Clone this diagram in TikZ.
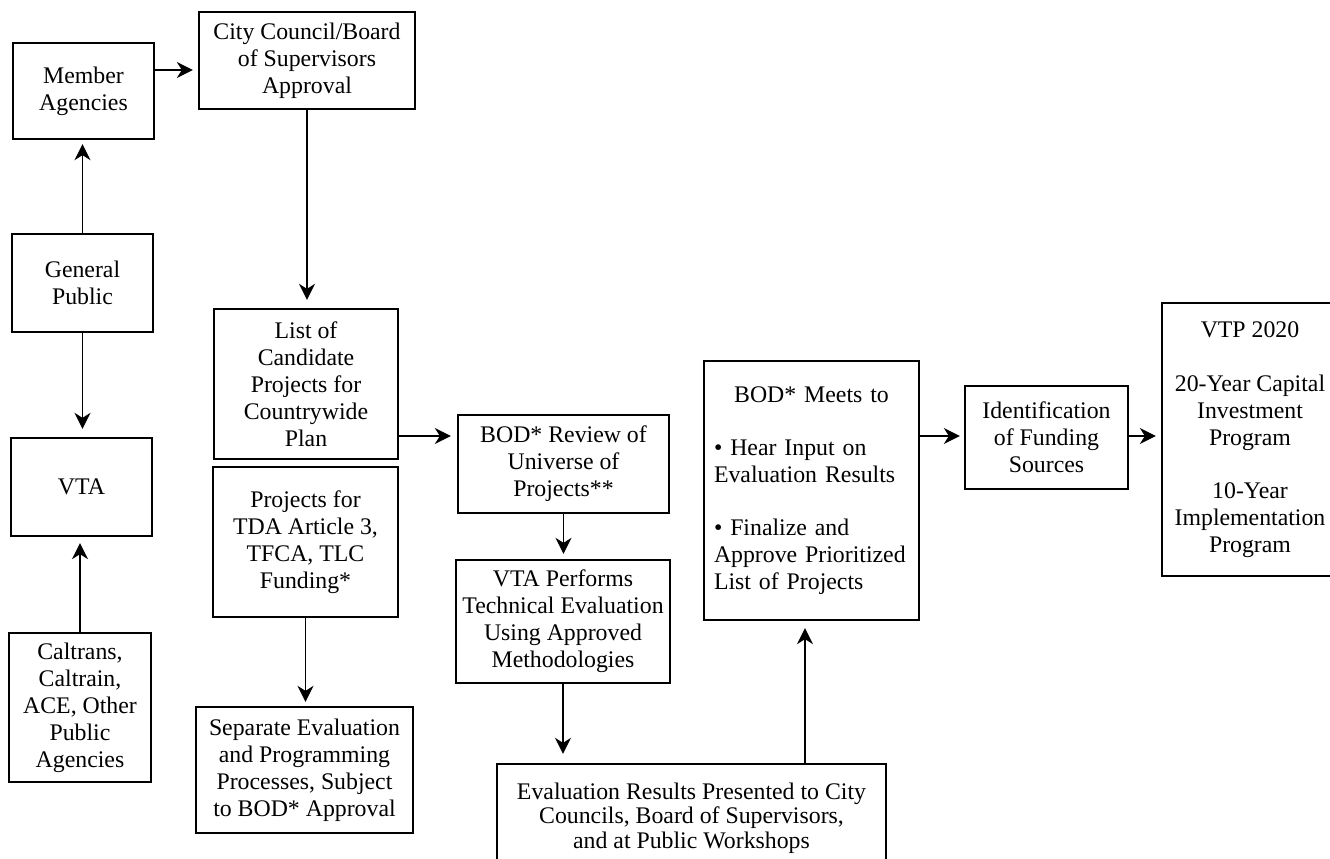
\documentclass[tikz,border=0pt]{standalone}
\usepackage{fontspec}
\setmainfont{Liberation Serif}
\usetikzlibrary{arrows.meta}

\tikzset{
  box/.style={draw, line width=2.3pt, inner sep=0pt, align=center,
              font=\fontsize{23.8}{27}\selectfont},
  arr/.style={-{Stealth[length=16pt,width=16pt,inset=5pt]}, line width=1.8pt,
              shorten >=5pt}
}

\begin{document}
\begin{tikzpicture}[x=1pt,y=-1pt]
\useasboundingbox (0,0) rectangle (1330,859);
\clip (0,0) rectangle (1330,859);

% left column
\node[box, minimum width=141pt, minimum height=96pt] (mem) at (83.5,91) {Member\\Agencies};
\node[box, minimum width=141pt, minimum height=98pt] (gp) at (82.5,283) {General\\Public};
\node[box, minimum width=141pt, minimum height=98pt] (vta) at (81.5,487) {VTA};
\node[box, minimum width=142pt, minimum height=149pt] (cal) at (80,707.5)
  {Caltrans,\\Caltrain,\\ACE, Other\\Public\\Agencies};

% second column
\node[box, minimum width=216pt, minimum height=97pt] (city) at (307,60.5)
  {City Council/Board\\of Supervisors\\Approval};
\node[box, minimum width=184pt, minimum height=150pt] (list) at (306,384)
  {List of\\Candidate\\Projects for\\Countrywide\\Plan};
\node[box, minimum width=185pt, minimum height=150pt] (tda) at (305.5,542)
  {Projects for\\TDA Article 3,\\TFCA, TLC\\Funding*};
\node[box, minimum width=217pt, minimum height=126pt] (sep) at (304.5,770)
  {Separate Evaluation\\and Programming\\Processes, Subject\\to BOD* Approval};

% evaluation column
\node[box, minimum width=211pt, minimum height=98pt] (rev) at (563.5,464)
  {BOD* Review of\\Universe of\\Projects**};
\node[box, minimum width=214pt, minimum height=123pt] (perf) at (563,621.5)
  {VTA Performs\\Technical Evaluation\\Using Approved\\Methodologies};
\node[box, minimum width=389pt, minimum height=108pt,
      font=\fontsize{23.8}{24.5}\selectfont] (eval) at (691.5,818)
  {Evaluation Results Presented to City\\Councils, Board of Supervisors,\\and at Public Workshops};

% decision and outcome
\node[box, minimum width=215pt, minimum height=259pt, text width=195pt, align=left] (meet) at (811.5,490.5)
  {\makebox[195pt]{BOD* Meets to}\\[26pt]
   \textbullet{} Hear Input on\\Evaluation Results\\[26pt]
   \textbullet{} Finalize and\\Approve Prioritized\\List of Projects};
\node[box, minimum width=163pt, minimum height=103pt] (fund) at (1046.5,437.5)
  {Identification\\of Funding\\Sources};
\node[box, minimum width=176pt, minimum height=273pt] (vtp) at (1250,439.5)
  {VTP 2020\\[27pt]20-Year Capital\\Investment\\Program\\[26pt]10-Year\\Implementation\\Program};

% connector guide points
\coordinate (rowA) at (0,70);
\coordinate (rowB) at (0,436);
\coordinate (colE) at (805,0);

% connectors
\draw[arr] (mem.east |- rowA) -- (city.west |- rowA);
\draw[arr, shorten >=8pt] (city.south) -- (city.south |- list.north);
\draw[arr, shorten >=4pt] (gp.north) -- (gp.north |- mem.south);
\draw[arr, shorten >=8pt] (gp.south) -- (gp.south |- vta.north);
\draw[arr, shorten >=6pt] (cal.north) -- (cal.north |- vta.south);
\draw[arr, shorten >=4pt] (tda.south) -- (tda.south |- sep.north);
\draw[arr, shorten >=6pt] (list.east |- rowB) -- (rev.west |- rowB);
\draw[arr] (rev.south) -- (rev.south |- perf.north);
\draw[arr, shorten >=9pt] (perf.south) -- (perf.south |- eval.north);
\draw[arr, shorten >=7pt] (eval.north -| colE) -- (meet.south -| colE);
\draw[arr, shorten >=4pt] (meet.east |- rowB) -- (fund.west |- rowB);
\draw[arr] (fund.east |- rowB) -- (vtp.west |- rowB);
\end{tikzpicture}
\end{document}
